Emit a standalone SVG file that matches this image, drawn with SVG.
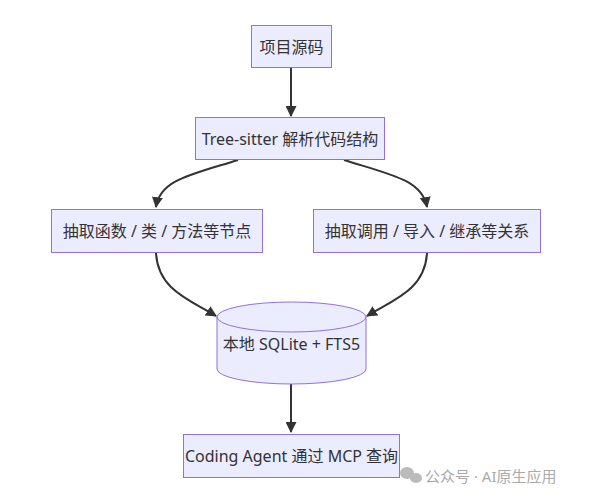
<svg xmlns="http://www.w3.org/2000/svg" width="593" height="500" viewBox="0 0 593 500">
<defs>
<style>
.n{fill:#ECECFF;stroke:#9370DB;stroke-width:1}
.t{font-family:"Noto Sans","Noto Sans CJK SC",sans-serif;font-size:16px;fill:#333;text-anchor:middle;dominant-baseline:central}
.e{fill:none;stroke:#333;stroke-width:2}
.w{font-family:"Noto Sans","Noto Sans CJK SC",sans-serif;font-size:15px;fill:#aaa}
</style>
<marker id="ah" viewBox="0 0 10 10" refX="9" refY="5" markerWidth="11" markerHeight="11" orient="auto" markerUnits="userSpaceOnUse">
<path d="M0,0 L10,5 L0,10 z" fill="#333"/>
</marker>
</defs>
<rect width="593" height="500" fill="#fff"/>
<g id="edges">
<path class="e" d="M291,68 L291,116" marker-end="url(#ah)"/>
<path class="e" d="M238,160 C190,175 160,180 156,207" marker-end="url(#ah)"/>
<path class="e" d="M344,160 C392,175 422,180 427,207" marker-end="url(#ah)"/>
<path class="e" d="M156,253 C158,290 190,300 216,316" marker-end="url(#ah)"/>
<path class="e" d="M427,253 C425,290 393,300 367,316" marker-end="url(#ah)"/>
<path class="e" d="M291,384 L291,432" marker-end="url(#ah)"/>
</g>
<g id="n1">
<rect class="n" x="251.5" y="25.5" width="80" height="42"/>
<text class="t" x="291.5" y="46.5">项目源码</text>
</g>
<g id="n2">
<rect class="n" x="195.5" y="117.5" width="189" height="42"/>
<text class="t" x="290" y="138.5">Tree-sitter 解析代码结构</text>
</g>
<g id="n3">
<rect class="n" x="51.5" y="209.5" width="211" height="43"/>
<text class="t" x="157" y="231">抽取函数 / 类 / 方法等节点</text>
</g>
<g id="n4">
<rect class="n" x="313.5" y="209.5" width="227" height="43"/>
<text class="t" x="427" y="231">抽取调用 / 导入 / 继承等关系</text>
</g>
<g id="n5">
<path class="n" d="M217,317 A74.5,15 0 0 1 366,317 L366,369 A74.5,15 0 0 1 217,369 Z"/>
<path class="n" style="fill:none" d="M217,317 A74.5,15 0 0 0 366,317"/>
<text class="t" x="291.5" y="344">本地 SQLite + FTS5</text>
</g>
<g id="n6">
<rect class="n" x="183.5" y="434.5" width="216" height="43"/>
<text class="t" x="291.5" y="456">Coding Agent 通过 MCP 查询</text>
</g>
<g id="watermark">
<ellipse cx="407" cy="473" rx="7" ry="6" fill="#bbb"/>
<ellipse cx="416" cy="478" rx="6" ry="5" fill="#bbb"/>
<text class="w" x="425" y="482">公众号 · AI原生应用</text>
</g>
</svg>
